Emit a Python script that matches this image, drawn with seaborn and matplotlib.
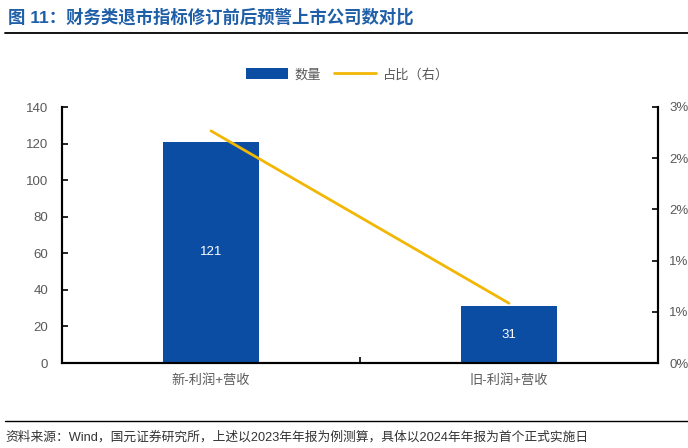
import matplotlib
matplotlib.use("Agg")
import matplotlib.pyplot as plt
import seaborn as sns
import numpy as np
import pandas as pd
from matplotlib.ticker import FuncFormatter, FixedLocator
from matplotlib.patches import Patch
from matplotlib.lines import Line2D

categories = ["新-利润+营收", "旧-利润+营收"]
counts = [121, 31]
ratios = [2.72, 0.70]  # percent, right axis
left_ticks = [0, 20, 40, 60, 80, 100, 120, 140]
right_ticks = [0, 0.6, 1.2, 1.8, 2.4, 3.0]

title = "图 11：财务类退市指标修订前后预警上市公司数对比"
source = "资料来源：Wind，国元证券研究所，上述以2023年年报为例测算，具体以2024年年报为首个正式实施日"

sns.set_theme(style="white")
plt.rcParams["font.family"] = ["Liberation Sans", "Noto Sans CJK SC", "DejaVu Sans"]

BAR = "#0B4DA2"
LINE = "#F2B705"
GREY = "#595959"

fig = plt.figure(figsize=(6.88, 4.48), dpi=100)
ax = fig.add_axes([62 / 688, 85 / 448, 596 / 688, 256 / 448])

df = pd.DataFrame({"cat": categories, "count": counts})
sns.barplot(data=df, x="cat", y="count", color=BAR, width=0.32, ax=ax,
            saturation=1, edgecolor="none")
ax.set_xlim(-0.5, 1.5)
ax.set_ylim(0, 140)
ax.yaxis.set_major_locator(FixedLocator(left_ticks))
ax.set_xlabel("")
ax.set_ylabel("")
for i, v in enumerate(counts):
    ax.text(i, v / 2, str(v), color="white", ha="center", va="center", fontsize=9.5)

ax2 = ax.twinx()
sns.lineplot(x=np.arange(len(categories)), y=ratios, ax=ax2, color=LINE, linewidth=2)
ax2.set_ylim(0, 3)
ax2.yaxis.set_major_locator(FixedLocator(right_ticks))
ax2.yaxis.set_major_formatter(FuncFormatter(lambda v, p: f"{int(v + 0.5)}%"))
ax2.set_ylabel("")

for a in (ax, ax2):
    a.spines["top"].set_visible(False)
    for s in ("left", "right", "bottom"):
        a.spines[s].set_color("black")
        a.spines[s].set_linewidth(1.5)
ax.tick_params(axis="y", direction="in", length=4, width=1.2, color="black",
               labelsize=9.5, labelcolor=GREY, pad=10, left=True)
ax2.tick_params(axis="y", direction="in", length=4, width=1.2, color="black",
                labelsize=9.5, labelcolor=GREY, pad=8, right=True)
ax.tick_params(axis="x", length=0, labelsize=9.5, labelcolor=GREY, pad=8)
ax.set_xticks([0.5], minor=True)
ax.tick_params(axis="x", which="minor", direction="in", length=4, width=1.2, color="black", bottom=True)
ax.grid(False)
ax2.grid(False)

handles = [Patch(facecolor=BAR, edgecolor="none"),
           Line2D([0], [0], color=LINE, linewidth=2)]
fig.legend(handles, ["数量", "占比（右）"], loc="center", bbox_to_anchor=(0.505, 1 - 75 / 448),
           ncol=2, frameon=False, fontsize=9.5, labelcolor=GREY, handlelength=3.2,
           handleheight=0.9, columnspacing=1.0, handletextpad=0.5)

fig.text(8 / 688, 1 - 17 / 448, title, color="#1F5FA8", fontsize=12.5, fontweight="bold",
         ha="left", va="center")
fig.add_artist(Line2D([5 / 688, 1], [1 - 33 / 448] * 2, color="black", linewidth=1.3,
                      transform=fig.transFigure))
fig.add_artist(Line2D([5 / 688, 1], [1 - 421 / 448] * 2, color="black", linewidth=1.0,
                      transform=fig.transFigure))
fig.text(5 / 688, 1 - 437 / 448, source, color="#333333", fontsize=9.2, ha="left", va="center")

fig.savefig("out.png", dpi=100)
